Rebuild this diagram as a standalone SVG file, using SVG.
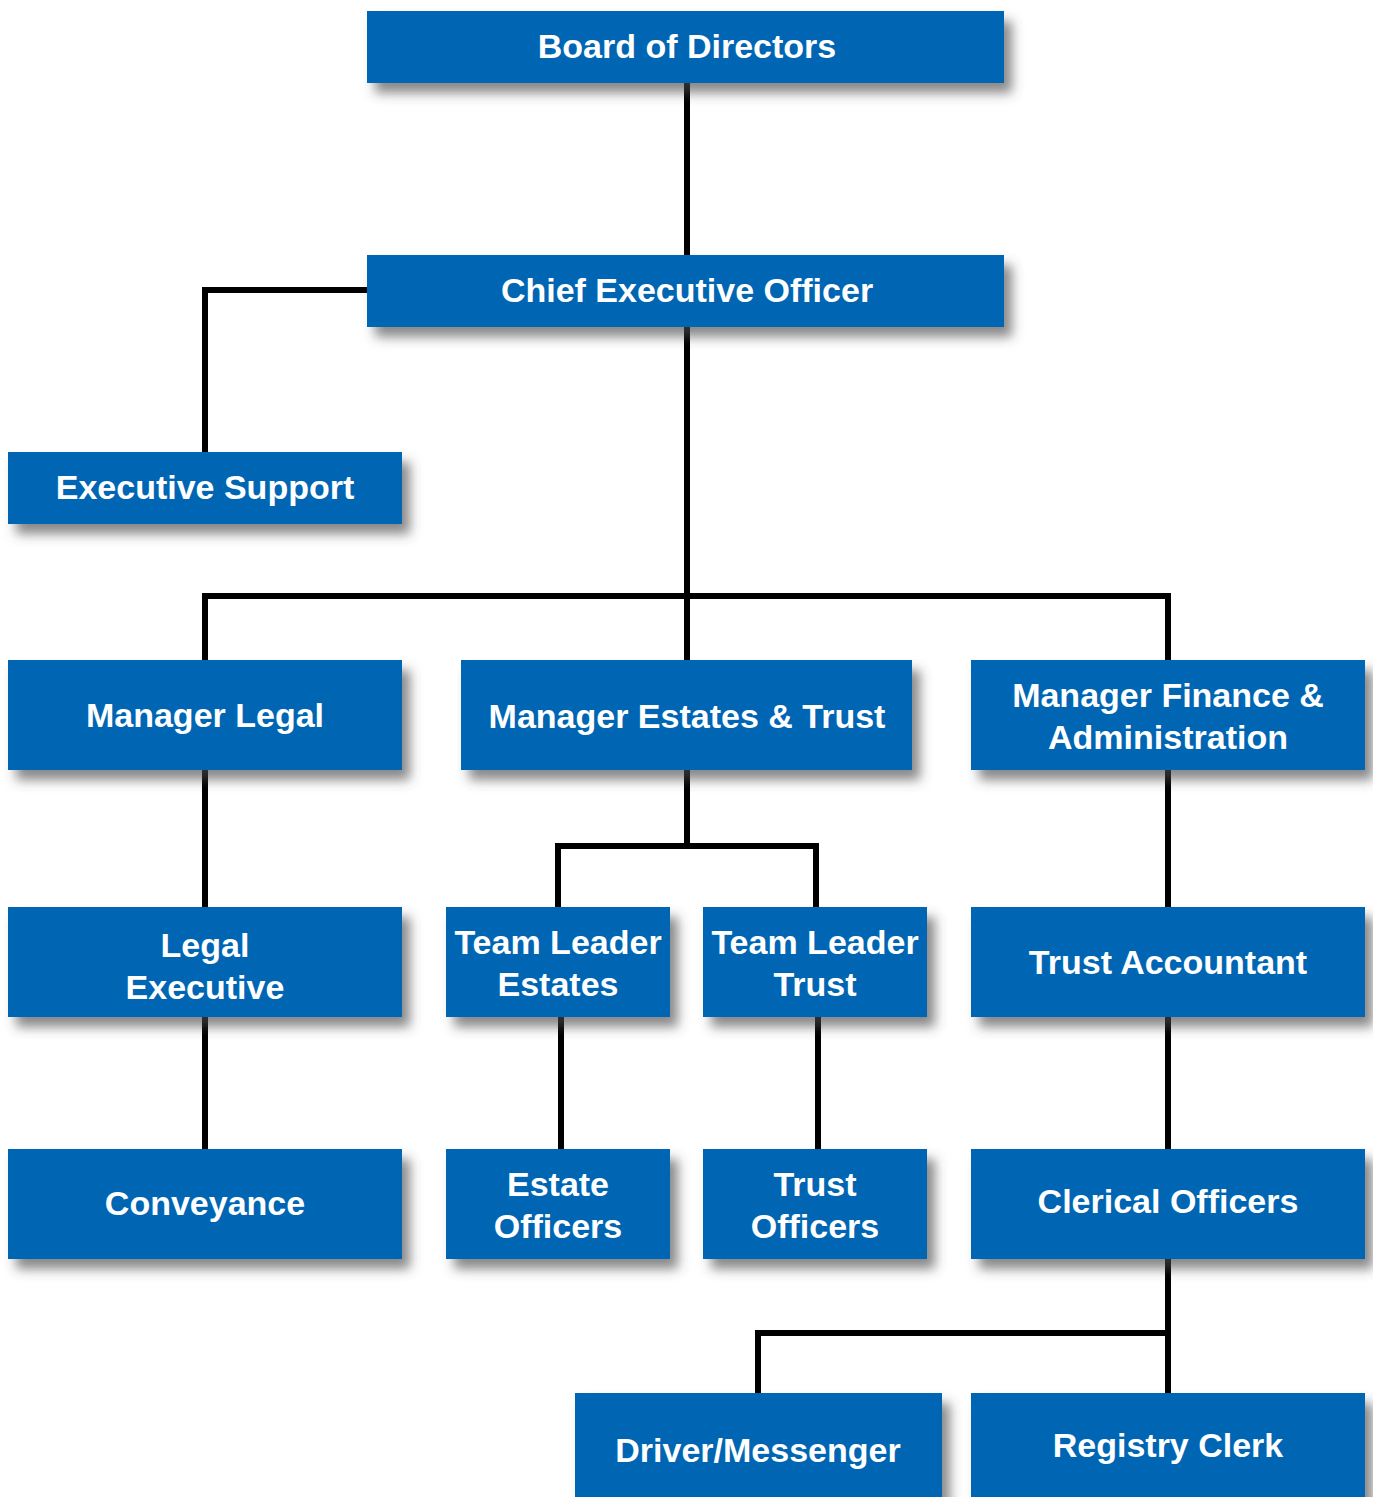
<svg xmlns="http://www.w3.org/2000/svg" width="1373" height="1497" viewBox="0 0 1373 1497">
<style>
.box{fill:#0066b3;filter:url(#sh)}
.t{font-family:"Liberation Sans",Arial,sans-serif;font-weight:bold;font-size:34px;fill:#fff;text-anchor:middle}
.c{fill:none;stroke:#000;stroke-width:6;stroke-linejoin:miter}
</style>
<defs>
<filter id="sh" x="-10%" y="-20%" width="130%" height="160%">
<feDropShadow dx="8" dy="10" stdDeviation="6" flood-color="#4a4a4a" flood-opacity="0.65"/>
</filter>
</defs>
<rect width="1373" height="1497" fill="#fff"/>
<g id="connectors">
<path class="c" d="M687 83V255"/>
<path class="c" d="M367 290H205V452"/>
<path class="c" d="M687 327V660"/>
<path class="c" d="M205 660V596H1168V660"/>
<path class="c" d="M205 770V907"/>
<path class="c" d="M205 1017V1149"/>
<path class="c" d="M687 770V846"/>
<path class="c" d="M558 907V846H816V907"/>
<path class="c" d="M561 1017V1149"/>
<path class="c" d="M818 1017V1149"/>
<path class="c" d="M1168 770V907"/>
<path class="c" d="M1168 1017V1149"/>
<path class="c" d="M1168 1259V1393"/>
<path class="c" d="M758 1393V1333H1168"/>
</g>
<g id="board"><rect class="box" x="367" y="11" width="637" height="72"/><text class="t" x="687" y="58">Board of Directors</text></g>
<g id="ceo"><rect class="box" x="367" y="255" width="637" height="72"/><text class="t" x="687" y="302">Chief Executive Officer</text></g>
<g id="exec-support"><rect class="box" x="8" y="452" width="394" height="72"/><text class="t" x="205" y="499">Executive Support</text></g>
<g id="mgr-legal"><rect class="box" x="8" y="660" width="394" height="110"/><text class="t" x="205" y="727">Manager Legal</text></g>
<g id="mgr-estates"><rect class="box" x="461" y="660" width="451" height="110"/><text class="t" x="687" y="728">Manager Estates &amp; Trust</text></g>
<g id="mgr-finance"><rect class="box" x="971" y="660" width="394" height="110"/><text class="t" x="1168" y="707">Manager Finance &amp;</text><text class="t" x="1168" y="749">Administration</text></g>
<g id="legal-exec"><rect class="box" x="8" y="907" width="394" height="110"/><text class="t" x="205" y="957">Legal</text><text class="t" x="205" y="999">Executive</text></g>
<g id="tl-estates"><rect class="box" x="446" y="907" width="224" height="110"/><text class="t" x="558" y="954">Team Leader</text><text class="t" x="558" y="996">Estates</text></g>
<g id="tl-trust"><rect class="box" x="703" y="907" width="224" height="110"/><text class="t" x="815" y="954">Team Leader</text><text class="t" x="815" y="996">Trust</text></g>
<g id="trust-acct"><rect class="box" x="971" y="907" width="394" height="110"/><text class="t" x="1168" y="974">Trust Accountant</text></g>
<g id="conveyance"><rect class="box" x="8" y="1149" width="394" height="110"/><text class="t" x="205" y="1215">Conveyance</text></g>
<g id="estate-officers"><rect class="box" x="446" y="1149" width="224" height="110"/><text class="t" x="558" y="1196">Estate</text><text class="t" x="558" y="1238">Officers</text></g>
<g id="trust-officers"><rect class="box" x="703" y="1149" width="224" height="110"/><text class="t" x="815" y="1196">Trust</text><text class="t" x="815" y="1238">Officers</text></g>
<g id="clerical"><rect class="box" x="971" y="1149" width="394" height="110"/><text class="t" x="1168" y="1213">Clerical Officers</text></g>
<g id="driver"><rect class="box" x="575" y="1393" width="367" height="110"/><text class="t" x="758" y="1462">Driver/Messenger</text></g>
<g id="registry"><rect class="box" x="971" y="1393" width="394" height="110"/><text class="t" x="1168" y="1457">Registry Clerk</text></g>
</svg>
